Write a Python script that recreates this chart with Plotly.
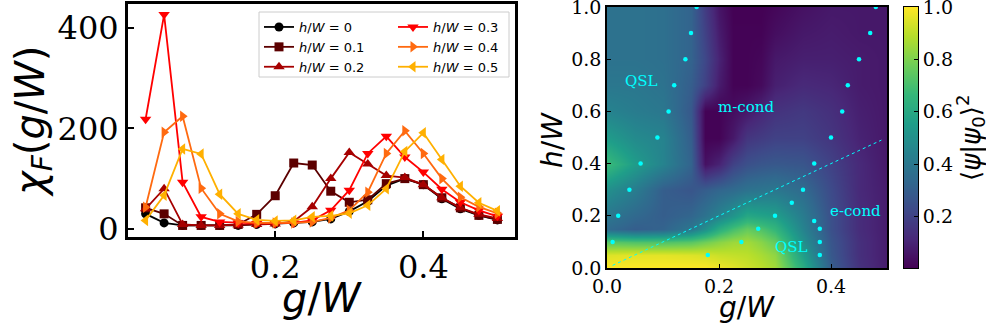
import plotly.graph_objects as go

W, H = 986, 329
ML, MR, MT, MB = 120, 66, 2, 58
def dx(x):   # pixel -> fraction of plot area (paper coords)
    return (x - ML) / (W - ML - MR)
def dy(y):
    return (H - MB - y) / (H - MT - MB)
px, py = dx, dy

# ---------------- left panel data: fidelity susceptibility ----------------
g_points = [0.025, 0.05, 0.075, 0.1, 0.125, 0.15, 0.175, 0.2, 0.225, 0.25,
            0.275, 0.3, 0.325, 0.35, 0.375, 0.4, 0.425, 0.45, 0.475, 0.5]
h_labels = ["0", "0.1", "0.2", "0.3", "0.4", "0.5"]
chi_h0 = [30, 12, 7, 7, 7, 7, 9, 10, 12, 14, 20, 35, 55, 86, 100, 88, 60, 40, 27, 18]
chi_h1 = [42, 30, 7, 7, 7, 9, 29, 66, 131, 127, 75, 53, 58, 90, 100, 88, 62, 42, 27, 19]
chi_h2 = [40, 80, 9, 7, 7, 8, 9, 10, 15, 44, 100, 152, 129, 106, 102, 88, 62, 42, 29, 21]
chi_h3 = [218, 426, 93, 24, 14, 12, 11, 11, 12, 17, 37, 77, 150, 184, 143, 113, 79, 53, 37, 25]
chi_h4 = [43, 192, 224, 81, 30, 15, 12, 12, 12, 14, 22, 37, 73, 150, 195, 150, 100, 63, 44, 31]
chi_h5 = [17, 67, 159, 149, 69, 30, 18, 16, 17, 24, 26, 31, 47, 80, 154, 191, 138, 85, 52, 36]
chi_series = [chi_h0, chi_h1, chi_h2, chi_h3, chi_h4, chi_h5]

# ---------------- right panel data: overlap map ----------------
g_grid = [0.0, 0.05, 0.1, 0.15, 0.175, 0.2, 0.225, 0.25, 0.275, 0.3, 0.35, 0.4, 0.45, 0.5]
h_grid = [0.0, 0.05, 0.1, 0.15, 0.2, 0.3, 0.4, 0.5, 0.6, 0.7, 0.8, 0.9, 1.0]
overlap = [
    [1.00, 1.00, 1.00, 1.00, 1.00, 0.98, 0.96, 0.93, 0.90, 0.86, 0.62, 0.30, 0.15, 0.08],
    [0.95, 0.96, 0.96, 0.95, 0.94, 0.92, 0.91, 0.90, 0.87, 0.83, 0.56, 0.28, 0.14, 0.08],
    [0.74, 0.72, 0.72, 0.74, 0.78, 0.82, 0.85, 0.86, 0.82, 0.76, 0.50, 0.27, 0.14, 0.08],
    [0.35, 0.30, 0.32, 0.40, 0.50, 0.62, 0.70, 0.76, 0.72, 0.66, 0.45, 0.25, 0.13, 0.08],
    [0.40, 0.34, 0.30, 0.33, 0.38, 0.45, 0.52, 0.60, 0.58, 0.56, 0.42, 0.25, 0.13, 0.08],
    [0.50, 0.42, 0.30, 0.27, 0.30, 0.33, 0.35, 0.38, 0.39, 0.40, 0.35, 0.23, 0.12, 0.08],
    [0.68, 0.55, 0.45, 0.32, 0.05, 0.10, 0.20, 0.25, 0.27, 0.28, 0.27, 0.20, 0.12, 0.07],
    [0.55, 0.48, 0.45, 0.30, 0.01, 0.01, 0.07, 0.16, 0.18, 0.20, 0.20, 0.16, 0.10, 0.07],
    [0.45, 0.42, 0.40, 0.28, 0.01, 0.01, 0.04, 0.07, 0.11, 0.15, 0.17, 0.14, 0.09, 0.07],
    [0.40, 0.40, 0.38, 0.30, 0.20, 0.08, 0.01, 0.01, 0.03, 0.09, 0.12, 0.11, 0.08, 0.07],
    [0.38, 0.38, 0.37, 0.32, 0.22, 0.10, 0.01, 0.01, 0.02, 0.07, 0.09, 0.09, 0.08, 0.07],
    [0.38, 0.38, 0.37, 0.32, 0.20, 0.08, 0.01, 0.01, 0.01, 0.04, 0.07, 0.08, 0.07, 0.07],
    [0.38, 0.38, 0.37, 0.32, 0.18, 0.06, 0.005, 0.005, 0.005, 0.02, 0.05, 0.07, 0.07, 0.07],
]
# colour-bar levels
cbar_levels = [0.004, 1.0]
cbar_ticks = [0.2, 0.4, 0.6, 0.8, 1.0]

# phase boundary points
left_g = [0.16, 0.15, 0.14, 0.12, 0.11, 0.09, 0.06, 0.04, 0.02, 0.01]
left_h = [1.0, 0.9, 0.8, 0.7, 0.6, 0.5, 0.4, 0.3, 0.2, 0.1]
right_g = [0.48, 0.47, 0.45, 0.43, 0.42, 0.40, 0.37, 0.35, 0.33, 0.30, 0.27, 0.24, 0.18,
           0.37, 0.38, 0.38, 0.38]
right_h = [1.0, 0.9, 0.8, 0.7, 0.6, 0.5, 0.4, 0.3, 0.25, 0.2, 0.15, 0.1, 0.05,
           0.18, 0.15, 0.1, 0.05]
line_g = [0.01, 0.49]
line_h = [0.01, 0.49]
phase_labels = ["QSL", "m-cond", "e-cond", "QSL"]
label_g = [0.062, 0.248, 0.444, 0.329]
label_h = [0.717, 0.618, 0.217, 0.082]

colors = ["#000000", "#5c0000", "#a60000", "#ff0000", "#ff6a10", "#ffb000"]
symbols = ["circle", "square", "triangle-up", "triangle-down", "triangle-right", "triangle-left"]
sizes = [9, 9, 10, 10, 10, 10]

fig = go.Figure()
for i, (lab, ys) in enumerate(zip(h_labels, chi_series)):
    fig.add_trace(go.Scatter(
        x=g_points, y=ys, mode="lines+markers",
        name="<i>h</i>/<i>W</i> = " + lab,
        line=dict(color=colors[i], width=1.8),
        marker=dict(symbol=symbols[i], size=sizes[i], color=colors[i]),
        xaxis="x", yaxis="y",
        legend="legend" if i < 3 else "legend2",
    ))

fig.add_trace(go.Heatmap(
    x=g_grid, y=h_grid, z=overlap, colorscale="Viridis", zmin=0.004, zmax=1.0,
    zsmooth="best", xaxis="x2", yaxis="y2", showscale=False, showlegend=False))
fig.add_trace(go.Scatter(x=line_g, y=line_h, mode="lines", xaxis="x2", yaxis="y2",
                         line=dict(color="#00ffff", width=1, dash="3px,3px"), showlegend=False))
fig.add_trace(go.Scatter(x=left_g + right_g, y=left_h + right_h, mode="markers",
                         xaxis="x2", yaxis="y2", marker=dict(color="#00ffff", size=4.5),
                         showlegend=False))
# colour bar (drawn on its own axis so that it stays exactly in place)
fig.add_trace(go.Heatmap(
    x=[0, 1], y=cbar_levels, z=[[v, v] for v in cbar_levels], colorscale="Viridis",
    zmin=0.004, zmax=1.0, zsmooth="best", xaxis="x3", yaxis="y3",
    showscale=False, showlegend=False, hoverinfo="skip"))

serif = "DejaVu Serif"
sans = "DejaVu Sans"
ax_common = dict(showgrid=False, zeroline=False, showline=True, linecolor="black",
                 mirror=True, ticks="inside", tickcolor="black", automargin=False,
                 ticklabeloverflow="allow")
fig.update_layout(
    width=W, height=H, margin=dict(l=ML, r=MR, t=MT, b=MB),
    paper_bgcolor="white", plot_bgcolor="white",
    xaxis=dict(domain=[dx(128), dx(515)], range=[0.00125, 0.52375], anchor="y",
               tickvals=[0.2, 0.4], ticktext=["0.2", "0.4"], linewidth=3, ticklen=6, tickwidth=1.5,
               tickfont=dict(family=serif, size=32, color="black"), **ax_common),
    yaxis=dict(domain=[dy(237), dy(4)], range=[-16, 447], anchor="x",
               tickvals=[0, 200, 400], ticktext=["0", "200", "400"], linewidth=3, ticklen=6, tickwidth=1.5,
               tickfont=dict(family=serif, size=32, color="black"), **ax_common),
    xaxis2=dict(domain=[dx(607), dx(887)], range=[0, 0.5], anchor="y2",
                tickvals=[0, 0.2, 0.4], ticktext=["0.0", "0.2", "0.4"], linewidth=1.5, ticklen=4,
                tickfont=dict(family=serif, size=19, color="black"), **ax_common),
    yaxis2=dict(domain=[dy(268), dy(7)], range=[0, 1.0], anchor="x2",
                tickvals=[0, 0.2, 0.4, 0.6, 0.8, 1.0],
                ticktext=["0.0", "0.2", "0.4", "0.6", "0.8", "1.0"], linewidth=1.5, ticklen=4,
                tickfont=dict(family=serif, size=19, color="black"), **ax_common),
    xaxis3=dict(domain=[dx(904), dx(918)], range=[0, 1], anchor="y3",
                showticklabels=False, ticks="", showgrid=False, zeroline=False,
                showline=True, linecolor="black", linewidth=1, mirror=True, automargin=False),
    yaxis3=dict(domain=[dy(268), dy(7)], range=[0.004, 1.0], anchor="x3", side="right",
                tickvals=cbar_ticks, ticktext=["0.2", "0.4", "0.6", "0.8", "1.0"],
                showgrid=False, zeroline=False, showline=True, linecolor="black", linewidth=1,
                mirror=True, ticks="inside", ticklen=4, tickcolor="black", automargin=False,
                ticklabeloverflow="allow",
                tickfont=dict(family=serif, size=19, color="black")),
    legend=dict(x=px(259), xanchor="left", y=py(12), yanchor="top",
                bgcolor="rgba(0,0,0,0)", borderwidth=0,
                font=dict(family=sans, size=13, color="black")),
    legend2=dict(x=px(393), xanchor="left", y=py(12), yanchor="top",
                 bgcolor="rgba(0,0,0,0)", borderwidth=0,
                 font=dict(family=sans, size=13, color="black")),
    shapes=[dict(type="rect", xref="paper", yref="paper", x0=px(259), x1=px(509),
                 y0=py(77), y1=py(12), line=dict(color="#cccccc", width=1),
                 fillcolor="rgba(255,255,255,0.8)", layer="above")],
)

annots = [
    dict(text="<i>g</i>/<i>W</i>", x=px(322), y=py(298), font=dict(family=sans, size=40)),
    dict(text="<i>χ</i><sub><i>F</i></sub>(<i>g</i>/<i>W</i>)", x=px(33), y=py(122),
         textangle=-90, font=dict(family=sans, size=40)),
    dict(text="<i>g</i>/<i>W</i>", x=px(747), y=py(307), font=dict(family=sans, size=28)),
    dict(text="<i>h</i>/<i>W</i>", x=px(552), y=py(140), textangle=-90, font=dict(family=sans, size=28)),
    dict(text="⟨<i>ψ</i>|<i>ψ</i><sub>0</sub>⟩<sup>2</sup>", x=px(970), y=py(138), textangle=-90,
         font=dict(family=sans, size=26)),
]
for a in annots:
    a.update(xref="paper", yref="paper", showarrow=False, xanchor="center", yanchor="middle")
    a["font"]["color"] = "black"
for t, gx, hy in zip(phase_labels, label_g, label_h):
    annots.append(dict(text=t, x=gx, y=hy, xref="x2", yref="y2", showarrow=False,
                       font=dict(family=serif, size=15, color="#00ffff")))
fig.update_layout(annotations=annots)

fig.write_html("out.html", config={"displayModeBar": False},
               post_script="document.body.style.margin='0';")
